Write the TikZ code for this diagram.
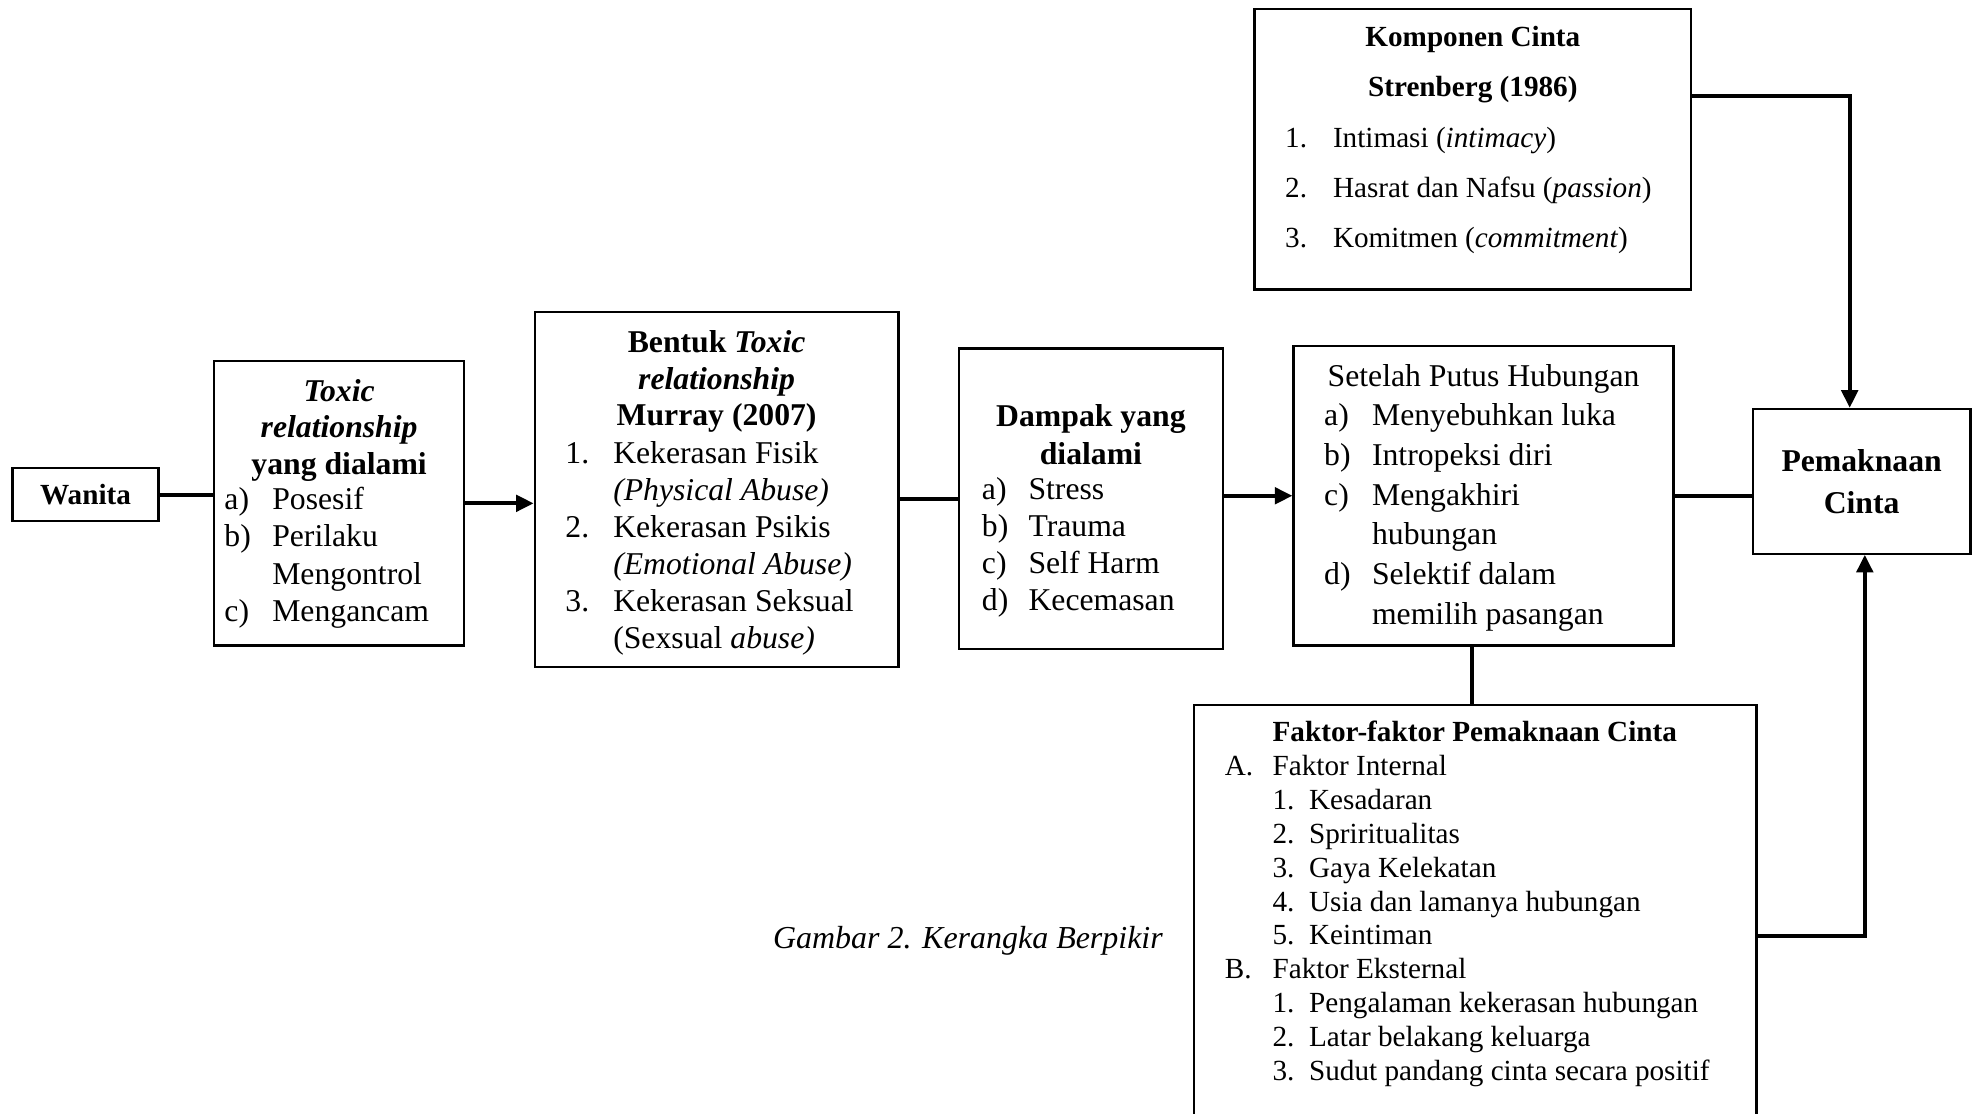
\documentclass[tikz,border=0pt]{standalone}
\usepackage{fontspec}
\setmainfont{Liberation Serif}
\usepackage{array}
\usetikzlibrary{arrows.meta}

% text sizes used in the boxes
\newcommand{\sizeA}[1]{\fontsize{12.6}{#1}\selectfont}
\newcommand{\sizeB}[1]{\fontsize{11.6}{#1}\selectfont}

\tikzset{
  box/.style={draw, line width=0.9pt, inner sep=0pt},
  txt/.style={inner sep=0pt, anchor=base},
  lst/.style={inner sep=0pt, anchor=base west},
  link/.style={line width=1.6pt},
  arr/.style={line width=1.6pt, -{Triangle[length=7pt,width=6.5pt]}},
}

\begin{document}
\begin{tikzpicture}[x=0.5pt, y=-0.5pt]
\useasboundingbox (0,0) rectangle (1568,885);

% ---- boxes ----
\node[box, minimum width=58pt, minimum height=21pt, font=\sizeB{13pt}] (wanita) at (68,393) {\textbf{Wanita}};
\node[box, minimum width=99.5pt, minimum height=113pt] (toxic) at (269.5,400) {};
\node[box, minimum width=144.5pt, minimum height=141pt] (bentuk) at (569.5,389) {};
\node[box, minimum width=105pt, minimum height=119.5pt] (dampak) at (867,396.5) {};
\node[box, minimum width=151pt, minimum height=119pt] (setelah) at (1179,394) {};
\node[box, minimum width=86.5pt, minimum height=57.5pt] (makna) at (1479.5,382.5) {};
\node[box, minimum width=173.5pt, minimum height=111.5pt] (komp) at (1170.5,118.5) {};
\node[box, minimum width=223.5pt, minimum height=200pt] (faktor) at (1172.5,760) {};

% ---- box contents ----
\node[txt] (toxicH) at (269.5,319) {\sizeA{14.5pt}\begin{tabular}[t]{@{}c@{}}
  \textbf{\textit{Toxic}}\\ \textbf{\textit{relationship}}\\ \textbf{yang dialami}\end{tabular}};
\node[lst] (toxicL) at (178,405) {\sizeA{14.85pt}\begin{tabular}[t]{@{}p{19pt}@{}l@{}}
  a) & Posesif\\ b) & Perilaku\\ & Mengontrol\\ c) & Mengancam\end{tabular}};

\node[txt] (bentukH) at (569.5,280) {\sizeA{14.6pt}\begin{tabular}[t]{@{}c@{}}
  \textbf{Bentuk \textit{Toxic}}\\ \textbf{\textit{relationship}}\\ \textbf{Murray (2007)}\end{tabular}};
\node[lst] (bentukL) at (449,368) {\sizeA{14.7pt}\begin{tabular}[t]{@{}p{19pt}@{}l@{}}
  1. & Kekerasan Fisik\\ & \textit{(Physical Abuse)}\\
  2. & Kekerasan Psikis\\ & \textit{(Emotional Abuse)}\\
  3. & Kekerasan Seksual\\ & (Sexsual \textit{abuse)}\end{tabular}};

\node[txt] (dampakH) at (867,339) {\sizeA{15pt}\begin{tabular}[t]{@{}c@{}}
  \textbf{Dampak yang}\\ \textbf{dialami}\end{tabular}};
\node[lst] (dampakL) at (780,397) {\sizeA{14.65pt}\begin{tabular}[t]{@{}p{18.5pt}@{}l@{}}
  a) & Stress\\ b) & Trauma\\ c) & Self Harm\\ d) & Kecemasan\end{tabular}};

\node[txt] (setelahH) at (1179,307) {\sizeA{15pt}Setelah Putus Hubungan};
\node[lst] (setelahL) at (1052,338) {\sizeA{15.85pt}\begin{tabular}[t]{@{}p{19pt}@{}l@{}}
  a) & Menyebuhkan luka\\ b) & Intropeksi diri\\ c) & Mengakhiri\\ & hubungan\\
  d) & Selektif dalam\\ & memilih pasangan\end{tabular}};

\node[txt] (maknaT) at (1479.5,375) {\sizeA{16.5pt}\begin{tabular}[t]{@{}c@{}}
  \textbf{Pemaknaan}\\ \textbf{Cinta}\end{tabular}};

\node[txt] (kompH) at (1170.5,37) {\sizeB{20pt}\begin{tabular}[t]{@{}c@{}}
  \textbf{Komponen Cinta}\\ \textbf{Strenberg (1986)}\end{tabular}};
\node[lst] (kompL) at (1021,117) {\sizeB{20pt}\begin{tabular}[t]{@{}p{19pt}@{}l@{}}
  1. & Intimasi (\textit{intimacy})\\ 2. & Hasrat dan Nafsu (\textit{passion})\\
  3. & Komitmen (\textit{commitment})\end{tabular}};

\node[lst] (faktorL) at (973,589) {\sizeB{13.5pt}\begin{tabular}[t]{@{}p{19pt}@{}p{14.5pt}@{}l@{}}
  & \multicolumn{2}{@{}l@{}}{\textbf{Faktor-faktor Pemaknaan Cinta}}\\
  A. & \multicolumn{2}{@{}l@{}}{Faktor Internal}\\
  & 1. & Kesadaran\\ & 2. & Spriritualitas\\ & 3. & Gaya Kelekatan\\
  & 4. & Usia dan lamanya hubungan\\ & 5. & Keintiman\\
  B. & \multicolumn{2}{@{}l@{}}{Faktor Eksternal}\\
  & 1. & Pengalaman kekerasan hubungan\\ & 2. & Latar belakang keluarga\\
  & 3. & Sudut pandang cinta secara positif\end{tabular}};

\node[lst] (caption) at (614,754) {\fontsize{12.7}{15}\selectfont\textit{Gambar 2. Kerangka Berpikir}};

% ---- connectors ----
\draw[link] (wanita.east) -- (wanita.east -| toxic.west);
\draw[arr] (toxic.east) -- (toxic.east -| bentuk.west);
\draw[link] (dampak.west -| bentuk.east) -- (dampak.west);
\draw[arr] (setelah.west -| dampak.east) -- (setelah.west);
\draw[link] (setelah.east) -- (setelah.east -| makna.west);

\coordinate (kc) at (1470,76);
\draw[arr] (kc -| komp.east) -- (kc) -- (kc |- makna.north);

\coordinate (sf) at (1170,0);
\draw[link] (sf |- setelah.south) -- (sf |- faktor.north);

\coordinate (fc) at (1482,744);
\draw[arr] (fc -| faktor.east) -- (fc) -- (fc |- makna.south);
\end{tikzpicture}
\end{document}
